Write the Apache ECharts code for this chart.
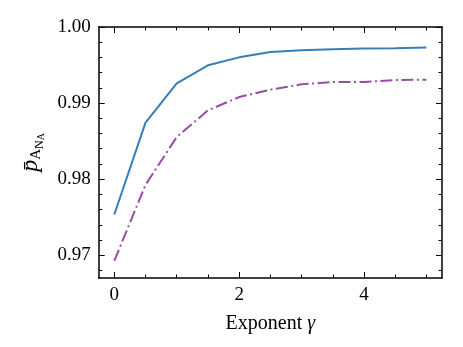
<!DOCTYPE html>
<html>
<head>
<meta charset="utf-8">
<script src="https://cdn.jsdelivr.net/npm/echarts@6/dist/echarts.min.js"></script>
<style>
  html, body { margin: 0; padding: 0; background: #fff; }
  #chart { width: 463px; height: 347px; }
</style>
</head>
<body>
<div id="chart"></div>
<script>
// exponent gamma
const gammas = [0, 0.5, 1, 1.5, 2, 2.5, 3, 3.5, 4, 4.5, 5]
// solid blue curve
const blueVals = [0.97535, 0.98742, 0.99259, 0.99496, 0.99601, 0.99671, 0.99693, 0.99707, 0.99716, 0.9972, 0.99729]
// dash-dot purple curve
const purpleVals = [0.96925, 0.97925, 0.98553, 0.98904, 0.99079, 0.99176, 0.99246, 0.99276, 0.99276, 0.99303, 0.99308]

const xMajor = [0, 2, 4]
const xMinor = [0.5, 1, 1.5, 2.5, 3, 3.5, 4.5, 5]
const yMajor = [0.97, 0.98, 0.99, 1.0]
const yMinor = [0.968, 0.972, 0.974, 0.976, 0.978, 0.982, 0.984, 0.986, 0.988, 0.992, 0.994, 0.996, 0.998]

const font = 'Liberation Serif'
const xMin = -0.25, xMax = 5.25
const yMin = 0.967, yMax = 1.0

const chart = echarts.init(document.getElementById('chart'))

function xAx(pos, major, showLabel) {
  return {
    type: 'value', position: pos, min: xMin, max: xMax,
    axisLine: { show: major, onZero: false, lineStyle: { color: '#000', width: 1.5 } },
    axisTick: { show: true, inside: true, length: major ? 6 : 3.5,
      lineStyle: { color: '#000', width: 1 }, customValues: major ? xMajor : xMinor },
    axisLabel: { show: showLabel, customValues: xMajor, margin: 8,
      color: '#000', fontFamily: font, fontSize: 19 },
    splitLine: { show: false }
  }
}

function yAx(pos, major, showLabel) {
  return {
    type: 'value', position: pos, min: yMin, max: yMax,
    axisLine: { show: major, onZero: false, lineStyle: { color: '#000', width: 1.5 } },
    axisTick: { show: true, inside: true, length: major ? 6 : 3.5,
      lineStyle: { color: '#000', width: 1 }, customValues: major ? yMajor : yMinor },
    axisLabel: { show: showLabel, customValues: yMajor, margin: 8,
      color: '#000', fontFamily: font, fontSize: 19,
      formatter: v => v.toFixed(2) },
    splitLine: { show: false }
  }
}

const xAxes = [xAx('bottom', true, true), xAx('bottom', false, false), xAx('top', true, false), xAx('top', false, false)]
xAxes[0].name = '{t|Exponent }{g|γ}'
xAxes[0].nameLocation = 'middle'
xAxes[0].nameGap = 36
xAxes[0].nameTextStyle = {
  color: '#000', fontFamily: font, fontSize: 20,
  rich: {
    t: { fontSize: 20, fontFamily: font, color: '#000' },
    g: { fontSize: 20, fontFamily: font, fontStyle: 'italic', color: '#000' }
  }
}

const yAxes = [yAx('left', true, true), yAx('left', false, false), yAx('right', true, false), yAx('right', false, false)]
yAxes[0].name = '{p|p\u0304}{a|A}{n|N}{b|A}'
yAxes[0].nameLocation = 'middle'
yAxes[0].nameGap = 42
yAxes[0].nameTextStyle = {
  color: '#000', fontFamily: font,
  rich: {
    p: { fontSize: 24, fontStyle: 'italic', fontFamily: font, color: '#000' },
    a: { fontSize: 15, fontFamily: font, color: '#000', padding: [12, 0, 0, 0] },
    n: { fontSize: 12, fontFamily: font, color: '#000', padding: [18, 0, 0, 0] },
    b: { fontSize: 10, fontFamily: font, color: '#000', padding: [22, 0, 0, 0] }
  }
}

chart.setOption({
  backgroundColor: '#fff',
  animation: false,
  grid: { left: 98.7, right: 21, top: 27, bottom: 69, containLabel: false },
  xAxis: xAxes,
  yAxis: yAxes,
  series: [
    {
      type: 'line', xAxisIndex: 0, yAxisIndex: 0,
      data: gammas.map((g, i) => [g, blueVals[i]]),
      showSymbol: false, lineStyle: { color: '#377eb8', width: 2 }
    },
    {
      type: 'line', xAxisIndex: 0, yAxisIndex: 0,
      data: gammas.map((g, i) => [g, purpleVals[i]]),
      showSymbol: false, lineStyle: { color: '#984ea3', width: 2, type: [12, 3.5, 2, 3.5] }
    }
  ]
})
</script>
</body>
</html>
